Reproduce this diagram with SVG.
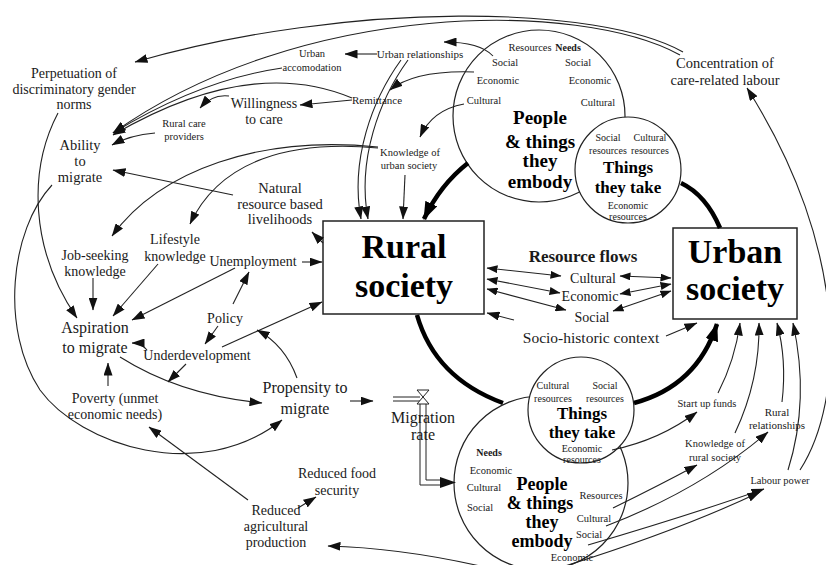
<svg xmlns="http://www.w3.org/2000/svg" width="826" height="565" viewBox="0 0 826 565">
  <defs>
    <marker id="ah" viewBox="0 0 13 9" refX="12.5" refY="4.5" markerWidth="13" markerHeight="9" markerUnits="userSpaceOnUse" orient="auto">
      <path d="M0,0 L13,4.5 L0,9 z" fill="#111"/>
    </marker>
    <marker id="ah2" viewBox="0 0 11 8" refX="10.5" refY="4" markerWidth="11" markerHeight="8" markerUnits="userSpaceOnUse" orient="auto-start-reverse">
      <path d="M0,0 L11,4 L0,8 z" fill="#111"/>
    </marker>
    <marker id="ahb" viewBox="0 0 18 13" refX="17" refY="6.5" markerWidth="18" markerHeight="13" markerUnits="userSpaceOnUse" orient="auto">
      <path d="M0,0 L18,6.5 L0,13 z" fill="#000"/>
    </marker>
    <style>
      text { font-family: "Liberation Serif", "Times New Roman", serif; fill: #1a1a1a; text-anchor: middle; }
      .s10 { font-size: 10px; }
      .s105 { font-size: 10.5px; }
      .s11 { font-size: 11px; }
      .s14 { font-size: 14px; }
      .s145 { font-size: 14.5px; }
      .s15 { font-size: 15px; }
      .s16 { font-size: 16px; }
      .b { font-weight: bold; }
      .pt { font-size: 19px; font-weight: bold; fill: #000; }
      .pb { font-size: 18px; font-weight: bold; fill: #000; }
      .tk { font-size: 17px; font-weight: bold; fill: #000; }
      .big { font-size: 34px; font-weight: bold; fill: #000; }
      .ring { fill: #fff; stroke: #222; stroke-width: 1.2; }
      .box { fill: #fff; stroke: #222; stroke-width: 1.5; }
      .c { fill: none; stroke: #222; stroke-width: 1.1; marker-end: url(#ah); }
      .d { fill: none; stroke: #222; stroke-width: 1.1; marker-start: url(#ah2); marker-end: url(#ah2); }
      .t { fill: none; stroke: #000; stroke-width: 4.5; }
      .ta { fill: none; stroke: #000; stroke-width: 4.5; marker-end: url(#ahb); }
      .pipe { fill: none; stroke: #222; stroke-width: 1; }
    </style>
  </defs>

  <!-- people and things, outgoing side -->
  <g id="people-top">
    <circle class="ring" cx="539" cy="116" r="86"/>
    <text class="s105" x="530" y="51">Resources</text>
    <text class="s10 b" x="568" y="51">Needs</text>
    <text class="s105" x="505" y="66">Social</text>
    <text class="s105" x="498" y="84">Economic</text>
    <text class="s105" x="484" y="104">Cultural</text>
    <text class="s105" x="578" y="66">Social</text>
    <text class="s105" x="590" y="84">Economic</text>
    <text class="s105" x="598" y="106">Cultural</text>
    <text class="pt" x="540" y="124">People</text>
    <text class="pt" x="540" y="148">&amp; things</text>
    <text class="pt" x="540" y="167">they</text>
    <text class="pt" x="540" y="188">embody</text>
  </g>

  <g id="things-top">
    <circle class="ring" cx="628" cy="170" r="53"/>
    <text class="s10" x="608" y="141">Social</text>
    <text class="s10" x="608" y="154">resources</text>
    <text class="s10" x="650" y="141">Cultural</text>
    <text class="s10" x="650" y="154">resources</text>
    <text class="tk" x="628" y="173">Things</text>
    <text class="tk" x="628" y="193">they take</text>
    <text class="s10" x="628" y="209">Economic</text>
    <text class="s10" x="628" y="220">resources</text>
  </g>

  <!-- people and things, return side -->
  <g id="people-bottom">
    <circle class="ring" cx="541" cy="483" r="87"/>
    <text class="s10 b" x="489" y="456">Needs</text>
    <text class="s105" x="491" y="474">Economic</text>
    <text class="s105" x="484" y="491">Cultural</text>
    <text class="s105" x="480" y="511">Social</text>
    <text class="pb" x="542" y="490">People</text>
    <text class="pb" x="540" y="509">&amp; things</text>
    <text class="pb" x="542" y="528">they</text>
    <text class="pb" x="542" y="547">embody</text>
    <text class="s105" x="601" y="499">Resources</text>
    <text class="s105" x="594" y="522">Cultural</text>
    <text class="s105" x="589" y="538">Social</text>
    <text class="s105" x="572" y="561">Economic</text>
  </g>

  <g id="things-bottom">
    <circle class="ring" cx="581" cy="410" r="53"/>
    <text class="s10" x="553" y="389">Cultural</text>
    <text class="s10" x="553" y="402">resources</text>
    <text class="s10" x="605" y="389">Social</text>
    <text class="s10" x="605" y="402">resources</text>
    <text class="tk" x="582" y="419">Things</text>
    <text class="tk" x="582" y="438">they take</text>
    <text class="s10" x="582" y="452">Economic</text>
    <text class="s10" x="582" y="463">resources</text>
  </g>

  <g id="rural-society">
    <rect class="box" x="323" y="221" width="161" height="93"/>
    <text class="big" x="404" y="258">Rural</text>
    <text class="big" x="404" y="297">society</text>
  </g>

  <g id="urban-society">
    <rect class="box" x="673" y="228" width="124" height="91"/>
    <text class="big" x="735" y="263">Urban</text>
    <text class="big" x="735" y="300">society</text>
  </g>

  <g id="connectors">
    <!-- main migration loop -->
    <path class="ta" d="M468,163 Q440,185 424,219"/>
    <path class="t" d="M417,315 Q435,378 503,403"/>
    <path class="ta" d="M634,403 Q697,386 717,324"/>
    <path class="t" d="M720,228 Q706,195 681,183"/>

    <!-- top arcs -->
    <path class="c" d="M683,52 C600,5 350,0 135,62"/>
    <path class="c" d="M680,55 C580,0 300,0 113,133"/>
    <path class="c" d="M282,68 Q200,80 113,133"/>
    <path class="c" d="M352,98 Q250,55 113,135"/>
    <path class="c" d="M493,56 Q480,42 444,42"/>
    <path class="c" d="M377,54 L345,54"/>
    <path class="c" d="M474,72 Q415,70 390,90"/>
    <path class="c" d="M352,100 L300,105"/>
    <path class="c" d="M464,104 Q432,110 420,137"/>
    <path class="c" d="M229,96 Q212,94 200,108"/>
    <path class="c" d="M155,133 Q130,135 112,145"/>
    <path class="c" d="M233,195 L113,170"/>
    <path class="c" d="M378,147 C260,135 160,170 112,236"/>
    <path class="c" d="M378,148 C290,140 220,160 190,224"/>
    <path class="c" d="M405,175 L403,219"/>
    <path class="c" d="M401,60 C372,100 350,160 361,219"/>
    <path class="c" d="M408,60 C379,100 357,160 368,219"/>

    <!-- left side -->
    <path class="c" d="M58,113 C28,170 30,250 77,318"/>
    <path class="c" d="M52,185 C10,230 0,330 40,390 C80,445 200,485 282,420"/>
    <path class="c" d="M120,357 Q180,395 262,403"/>
    <path class="c" d="M93,278 L93,310"/>
    <path class="c" d="M158,264 L113,316"/>
    <path class="c" d="M235,268 L132,320"/>
    <path class="c" d="M147,350 Q141,343 132,343"/>
    <path class="c" d="M233,304 L249,272"/>
    <path class="c" d="M218,326 L205,344"/>
    <path class="c" d="M222,347 L322,302"/>
    <path class="c" d="M302,262 L322,262"/>
    <path class="c" d="M323,243 L312,232"/>
    <path class="c" d="M186,364 L168,382"/>
    <path class="c" d="M108,386 L108,363"/>
    <path class="c" d="M297,378 Q285,345 257,330"/>
    <path class="c" d="M350,401 L373,401"/>
    <path class="c" d="M248,500 L149,427"/>
    <path class="c" d="M298,508 L316,497"/>
    <path class="c" d="M480,566 Q400,548 328,546"/>

    <!-- migration rate pipe and valve -->
    <path class="pipe" d="M393,397 L420,397 M393,401 L420,401"/>
    <path class="pipe" d="M420,401 L420,485 L440,485 M426,401 L426,480 L440,480"/>
    <path d="M440,477 L456,482.5 L440,488 z" fill="#111"/>
    <path d="M417,390 L429,390 L423,397 z M417,404 L429,404 L423,397 z" fill="#fff" stroke="#222" stroke-width="1"/>

    <!-- resource flows -->
    <path class="d" d="M487,268 L561,276"/>
    <path class="d" d="M620,276 L671,278"/>
    <path class="d" d="M487,279 L560,293"/>
    <path class="d" d="M620,294 L671,284"/>
    <path class="d" d="M487,289 L566,310"/>
    <path class="d" d="M613,311 L671,291"/>
    <path class="c" d="M514,320 L487,313"/>
    <path class="c" d="M666,336 L697,323"/>

    <!-- right side -->
    <path class="c" d="M612,450 Q660,440 697,412"/>
    <path class="c" d="M613,508 Q660,485 697,465"/>
    <path class="c" d="M606,526 Q700,490 768,432"/>
    <path class="c" d="M588,545 Q690,515 764,489"/>
    <path class="c" d="M565,566 Q680,530 760,492"/>
    <path class="c" d="M718,393 Q735,360 740,323"/>
    <path class="c" d="M735,433 Q760,380 759,323"/>
    <path class="c" d="M782,402 Q787,360 777,323"/>
    <path class="c" d="M788,470 Q810,400 793,323"/>
    <path class="c" d="M800,470 C845,400 850,250 747,88"/>
  </g>

  <g id="perpetuation"><text class="s14" x="74" y="78">Perpetuation of</text><text class="s14" x="74" y="94">discriminatory gender</text><text class="s14" x="74" y="109">norms</text></g>
  <g id="ability"><text class="s145" x="80" y="150">Ability</text><text class="s145" x="80" y="166">to</text><text class="s145" x="80" y="182">migrate</text></g>
  <g id="rural-care"><text class="s105" x="184" y="127">Rural care</text><text class="s105" x="184" y="140">providers</text></g>
  <g id="willingness"><text class="s14" x="264" y="108">Willingness</text><text class="s14" x="264" y="124">to care</text></g>
  <g id="urban-accomodation"><text class="s105" x="312" y="57">Urban</text><text class="s105" x="312" y="71">accomodation</text></g>
  <g id="urban-relationships"><text class="s11" x="420" y="58">Urban relationships</text></g>
  <g id="remittance"><text class="s11" x="377" y="104">Remittance</text></g>
  <g id="knowledge-urban"><text class="s105" x="410" y="156">Knowledge of</text><text class="s105" x="409" y="169">urban society</text></g>
  <g id="natural"><text class="s145" x="280" y="193">Natural</text><text class="s145" x="280" y="209">resource based</text><text class="s145" x="280" y="224">livelihoods</text></g>
  <g id="job-seeking"><text class="s14" x="95" y="260">Job-seeking</text><text class="s14" x="95" y="276">knowledge</text></g>
  <g id="lifestyle"><text class="s14" x="175" y="244">Lifestyle</text><text class="s14" x="175" y="261">knowledge</text></g>
  <g id="unemployment"><text class="s14" x="253" y="266">Unemployment</text></g>
  <g id="policy"><text class="s14" x="225" y="323">Policy</text></g>
  <g id="aspiration"><text class="s16" x="95" y="333">Aspiration</text><text class="s16" x="95" y="353">to migrate</text></g>
  <g id="underdevelopment"><text class="s14" x="197" y="360">Underdevelopment</text></g>
  <g id="propensity"><text class="s16" x="305" y="393">Propensity to</text><text class="s16" x="305" y="414">migrate</text></g>
  <g id="poverty"><text class="s14" x="115" y="403">Poverty (unmet</text><text class="s14" x="115" y="419">economic needs)</text></g>
  <g id="reduced-agri"><text class="s14" x="276" y="515">Reduced</text><text class="s14" x="276" y="531">agricultural</text><text class="s14" x="276" y="547">production</text></g>
  <g id="reduced-food"><text class="s14" x="337" y="478">Reduced food</text><text class="s14" x="337" y="495">security</text></g>
  <g id="migration-rate"><text class="s16" x="423" y="423">Migration</text><text class="s16" x="423" y="440">rate</text></g>
  <g id="resource-flows"><text class="b" style="font-size:17px" x="583" y="262">Resource flows</text><text class="s14" x="593" y="283">Cultural</text><text class="s14" x="590" y="301">Economic</text><text class="s14" x="592" y="322">Social</text></g>
  <g id="socio-historic"><text style="font-size:15.5px" x="591" y="343">Socio-historic context</text></g>
  <g id="concentration"><text class="s145" x="725" y="68">Concentration of</text><text class="s145" x="725" y="85">care-related labour</text></g>
  <g id="start-up"><text class="s105" x="707" y="407">Start up funds</text></g>
  <g id="rural-relationships"><text class="s11" x="777" y="416">Rural</text><text class="s11" x="777" y="429">relationships</text></g>
  <g id="knowledge-rural"><text class="s105" x="715" y="447">Knowledge of</text><text class="s105" x="715" y="461">rural society</text></g>
  <g id="labour"><text class="s105" x="780" y="484">Labour power</text></g>
</svg>
